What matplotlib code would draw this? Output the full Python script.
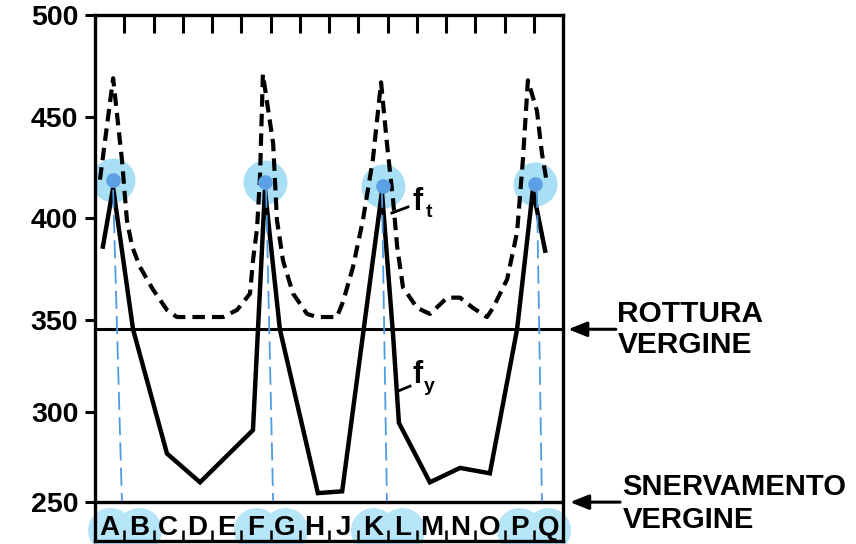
import numpy as np
import matplotlib
matplotlib.use("Agg")
import matplotlib.pyplot as plt

# ---------------- data ----------------
letters = list("ABCDEFGHJKLMNOPQ")
highlighted = ["A", "B", "F", "G", "K", "L", "P", "Q"]

y_ticks = [250, 300, 350, 400, 450, 500]

# f_t (dashed, tensile strength)
ft_x = [-0.33, 0.12, 0.42, 0.59, 0.77, 1.04, 1.48, 1.96, 2.30, 3.09, 3.88, 4.36,
        4.80, 4.90, 5.04, 5.14, 5.24, 5.59, 5.72, 5.93, 6.27, 6.75, 7.09, 7.77,
        7.98, 8.32, 8.66, 9.00, 9.28, 9.48, 9.69, 9.83, 10.03, 10.51, 10.95,
        11.54, 11.98, 12.42, 12.90, 13.11, 13.59, 13.93, 14.13, 14.30, 14.61,
        14.78, 14.92]
ft_y = [419, 469, 429, 399, 386, 376, 365, 355, 351.5, 351.5, 351.5, 355,
        363, 379, 395, 420, 471, 437, 399, 379, 363, 353, 351.5, 351.5,
        359, 376, 399, 429, 467, 437, 409, 386, 366, 356, 353,
        361, 361, 356, 351.5, 356, 370, 393, 429, 468, 453,
        432, 420]

# f_y (solid, yield strength)
fy_x = [-0.23, 0.12, 0.80, 1.96, 3.09, 4.90, 5.31, 5.82, 7.12, 7.95, 9.31,
        9.69, 9.89, 10.95, 11.98, 13.00, 13.93, 14.47, 14.89]
fy_y = [386, 415, 345, 277, 261, 290, 414, 345, 255, 256, 413,
        342, 294, 261, 269, 266, 345, 414, 384]

rottura_vergine = 345
snervamento_vergine = 250

# blue highlight marks (annotation overlay)
peak_x = [0.12, 5.31, 9.35, 14.54]
peak_y = [419, 418, 416, 417]
guide_top_x = [0.12, 5.35, 9.31, 14.61]
guide_bot_x = [0.42, 5.59, 9.48, 14.78]
guide_top_y = 414
guide_bot_y = 250.5

# hand-drawn (slightly irregular) value axis: value -> vertical position
scale_vals = [220, 250, 300, 350, 400, 450, 500, 520]
scale_pos = [-11, 42, 132, 224, 326, 427, 529, 570]

def fwd(v):
    return np.interp(v, scale_vals, scale_pos)

def inv(u):
    return np.interp(u, scale_pos, scale_vals)

# ---------------- figure ----------------
plt.rcParams['font.family'] = ['Liberation Sans', 'DejaVu Sans']

fig = plt.figure(figsize=(8.56, 5.44), dpi=100)
ax = fig.add_axes([95/856, 1-541/544, 468/856, 526/544])
ax.set_yscale('function', functions=(fwd, inv))
ax.set_xlim(-0.5, 15.5)
ax.set_ylim(228, 500)

# blue halos at peaks (under curves)
ax.scatter(peak_x, peak_y, s=1000, color='#a9dff5', zorder=1, linewidths=0)

# curves
ax.plot(ft_x, ft_y, color='black', lw=3.0, ls=(0, (3.0, 1.7)), zorder=3,
        solid_capstyle='butt')
ax.plot(fy_x, fy_y, color='black', lw=3.2, zorder=3, solid_joinstyle='miter')

# reference lines
ax.axhline(rottura_vergine, color='black', lw=2.2, zorder=3)
ax.axhline(snervamento_vergine, color='black', lw=2.4, zorder=3)

# dark blue dots
ax.scatter(peak_x, peak_y, s=110, color='#5b9fe4', zorder=5, linewidths=0)
# blue dashed guides
for xt, xb in zip(guide_top_x, guide_bot_x):
    ax.plot([xt, xb], [guide_top_y, guide_bot_y], color='#4f9be3', lw=1.3,
            ls=(0, (10, 4)), zorder=4)

# letter strip
for i, L in enumerate(letters):
    if L in highlighted:
        ax.scatter([i], [234.0], s=1050, color='#b6e6f8', zorder=0,
                   linewidths=0, clip_on=False)
    ax.text(i, 231.2, L, ha='center', va='baseline', fontsize=20,
            fontweight='bold', zorder=6)

# curve labels
ax.plot([9.65, 10.20], [402.5, 405.5], color='black', lw=2.0, zorder=3)
ax.text(10.34, 404, "f", fontsize=22, fontweight='bold', va='baseline')
ax.text(10.80, 400.3, "t", fontsize=14, fontweight='bold', va='baseline')
ax.plot([9.86, 10.27], [311.4, 314.1], color='black', lw=2.0, zorder=3)
ax.text(10.34, 315.8, "f", fontsize=22, fontweight='bold', va='baseline')
ax.text(10.74, 311.6, "y", fontsize=14, fontweight='bold', va='baseline')

# spines & ticks
for sp in ax.spines.values():
    sp.set_linewidth(2.4)
ax.set_yticks(y_ticks)
ax.set_yticklabels([str(v) for v in y_ticks])
ax.tick_params(axis='y', direction='out', length=7, width=2.2, pad=5,
               labelsize=20.5, left=True, right=False)
for lab in ax.get_yticklabels():
    lab.set_fontweight('bold')

bounds = np.arange(0.5, 15.0, 1.0)
ax.xaxis.remove_overlapping_locs = False
ax.set_xticks(bounds)
ax.set_xticks(bounds, minor=True)
ax.tick_params(axis='x', which='major', direction='in', length=13, width=2.2,
               top=True, bottom=False, labelbottom=False, labeltop=False)
ax.tick_params(axis='x', which='minor', direction='in', length=8, width=1.8,
               top=False, bottom=True, labelbottom=False)

# right-side annotations
arrow_kw = dict(arrowstyle='-|>,head_length=0.7,head_width=0.28', color='black',
                lw=2.2, mutation_scale=16, shrinkA=0, shrinkB=0)
ax.annotate('', xy=(1.011, rottura_vergine), xycoords=('axes fraction', 'data'),
            xytext=(1.113, rottura_vergine), textcoords=('axes fraction', 'data'),
            arrowprops=arrow_kw, annotation_clip=False)
ax.annotate('', xy=(1.015, snervamento_vergine), xycoords=('axes fraction', 'data'),
            xytext=(1.122, snervamento_vergine), textcoords=('axes fraction', 'data'),
            arrowprops=arrow_kw, annotation_clip=False)

fig.text(617/856, 1-322/544, "ROTTURA", fontsize=21.5, fontweight='bold', va='baseline')
fig.text(618/856, 1-353/544, "VERGINE", fontsize=21.5, fontweight='bold', va='baseline')
fig.text(622/856, 1-495/544, "SNERVAMENTO", fontsize=21, fontweight='bold', va='baseline')
fig.text(623/856, 1-528/544, "VERGINE", fontsize=21, fontweight='bold', va='baseline')

fig.savefig("out.png", dpi=100)
